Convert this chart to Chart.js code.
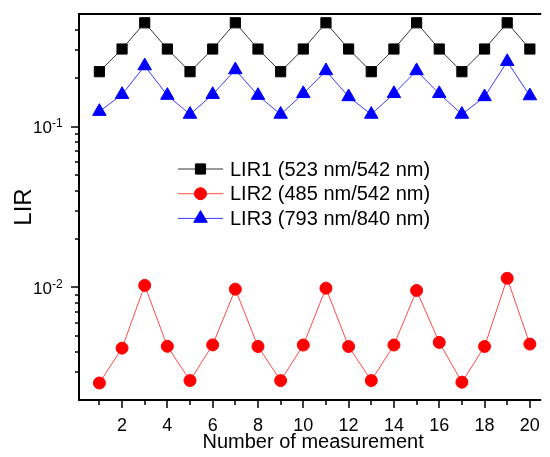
<!DOCTYPE html>
<html>
<head>
<meta charset="utf-8">
<script src="https://cdn.jsdelivr.net/npm/chart.js@4.4.0/dist/chart.umd.min.js"></script>
<style>
html,body{margin:0;padding:0;background:#fff;}
#wrap{width:550px;height:457px;position:relative;}
</style>
</head>
<body>
<div id="wrap"><canvas id="c"></canvas></div>
<script>
// ---- data ----
const measurements = [1,2,3,4,5,6,7,8,9,10,11,12,13,14,15,16,17,18,19,20];
const lir1 = [0.219,0.303,0.441,0.303,0.219,0.303,0.441,0.303,0.219,0.303,0.441,0.303,0.219,0.303,0.441,0.303,0.219,0.303,0.441,0.303];
const lir2 = [0.00255,0.0042,0.0103,0.00431,0.00264,0.0044,0.00976,0.0043,0.00264,0.00439,0.0099,0.0043,0.00264,0.00439,0.00958,0.00456,0.00258,0.0043,0.0114,0.00445];
const lir3 = [0.124,0.158,0.238,0.156,0.119,0.158,0.225,0.156,0.119,0.160,0.222,0.153,0.119,0.160,0.222,0.160,0.119,0.153,0.253,0.155];
const seriesLabels = ['LIR1 (523 nm/542 nm)','LIR2 (485 nm/542 nm)','LIR3 (793 nm/840 nm)'];
const xTickValues = [1,2,3,4,5,6,7,8,9,10,11,12,13,14,15,16,17,18,19,20];
const xTickLabels = {2:'2',4:'4',6:'6',8:'8',10:'10',12:'12',14:'14',16:'16',18:'18',20:'20'};
const yMajorTicks = [0.01, 0.1];
const yMajorLabels = [['10','-2'],['10','-1']];
const yMinorTicks = [0.003,0.004,0.005,0.006,0.007,0.008,0.009,0.02,0.03,0.04,0.05,0.06,0.07,0.08,0.09,0.2,0.3,0.4];
const xTitle = 'Number of measurement';
const yTitle = 'LIR';

const FONT = "'Liberation Sans', Arial, sans-serif";

function pts(vals){ return measurements.map((m,i)=>({x:m,y:vals[i]})); }

const axesPlugin = {
  id: 'axesPlugin',
  beforeDatasetsDraw(chart){
    const ctx = chart.ctx, a = chart.chartArea, xs = chart.scales.x, ys = chart.scales.y;
    ctx.save();
    ctx.strokeStyle = '#000';
    ctx.lineWidth = 2;
    ctx.beginPath();
    ctx.moveTo(a.left, a.top); ctx.lineTo(a.right, a.top);
    ctx.moveTo(a.left, a.top-1); ctx.lineTo(a.left, a.bottom+1);
    ctx.moveTo(a.left-1, a.bottom); ctx.lineTo(a.right, a.bottom);
    ctx.stroke();
    ctx.lineWidth = 1.5;
    ctx.beginPath();
    xTickValues.forEach(v=>{
      const px = Math.round(xs.getPixelForValue(v));
      const len = xTickLabels[v] ? 8 : 5;
      ctx.moveTo(px, a.bottom); ctx.lineTo(px, a.bottom+len);
    });
    yMajorTicks.forEach(v=>{
      const py = Math.round(ys.getPixelForValue(v));
      ctx.moveTo(a.left, py); ctx.lineTo(a.left-8, py);
    });
    yMinorTicks.forEach(v=>{
      const py = Math.round(ys.getPixelForValue(v));
      ctx.moveTo(a.left, py); ctx.lineTo(a.left-4, py);
    });
    ctx.stroke();
    // y tick labels with superscript exponent
    ctx.fillStyle = '#000';
    yMajorTicks.forEach((v,i)=>{
      const py = ys.getPixelForValue(v);
      ctx.font = '17px ' + FONT;
      ctx.textAlign = 'right';
      ctx.textBaseline = 'middle';
      ctx.fillText(yMajorLabels[i][0], 52, py + 1.5);
      ctx.font = '12px ' + FONT;
      ctx.textAlign = 'left';
      ctx.textBaseline = 'alphabetic';
      ctx.fillText(yMajorLabels[i][1], 52, py + 0.5);
    });
    // x axis title centred like the reference
    ctx.font = '20px ' + FONT;
    ctx.textAlign = 'center';
    ctx.textBaseline = 'middle';
    ctx.fillText(xTitle, (a.left + a.right) / 2 + 3, 442);
    ctx.restore();
  }
};

const legendPlugin = {
  id: 'legendPlugin',
  afterDatasetsDraw(chart){
    const ctx = chart.ctx;
    ctx.save();
    chart.data.datasets.forEach((ds,i)=>{
      const y = 169 + i*24.7;
      ctx.strokeStyle = ds.borderColor;
      ctx.lineWidth = 1;
      ctx.beginPath(); ctx.moveTo(178, y); ctx.lineTo(223, y); ctx.stroke();
      ctx.fillStyle = ds.pointBackgroundColor;
      ctx.strokeStyle = ds.pointBorderColor;
      Chart.helpers.drawPoint(ctx, {pointStyle: ds.pointStyle, radius: ds.pointRadius, borderWidth: ds.pointBorderWidth, rotation: 0}, 200.5, y);
      ctx.fillStyle = '#000';
      ctx.font = '20px ' + FONT;
      ctx.textAlign = 'left';
      ctx.textBaseline = 'middle';
      ctx.fillText(ds.label, 230, y + 1);
    });
    ctx.restore();
  }
};

new Chart(document.getElementById('c'), {
  type: 'line',
  data: {
    datasets: [
      {label: seriesLabels[0], data: pts(lir1), borderColor: '#333333', borderWidth: 1,
       pointStyle: 'rect', pointRadius: 7.2, pointBackgroundColor: '#000', pointBorderColor: '#000', pointBorderWidth: 1},
      {label: seriesLabels[1], data: pts(lir2), borderColor: '#ff4a4a', borderWidth: 1,
       pointStyle: 'circle', pointRadius: 6, pointBackgroundColor: '#ff0000', pointBorderColor: '#ff0000', pointBorderWidth: 1},
      {label: seriesLabels[2], data: pts(lir3), borderColor: '#3a3aff', borderWidth: 1,
       pointStyle: 'triangle', pointRadius: 7.8, pointBackgroundColor: '#0000ff', pointBorderColor: '#0000ff', pointBorderWidth: 1}
    ]
  },
  options: {
    responsive: true,
    maintainAspectRatio: false,
    animation: false,
    events: [],
    layout: {padding: {top: 14, left: 0, right: 0, bottom: 0}},
    plugins: {legend: {display: false}, tooltip: {enabled: false}},
    elements: {line: {tension: 0}},
    scales: {
      x: {
        type: 'linear', min: 0.1, max: 20.5,
        grid: {display: false, drawTicks: false},
        border: {display: false},
        afterBuildTicks(s){ s.ticks = xTickValues.map(v=>({value:v})); },
        afterFit(s){ s.height = 57; s.paddingLeft = 0; s.paddingRight = 0; },
        ticks: {autoSkip: false, maxRotation: 0, padding: 15, color: '#000',
          font: {family: FONT, size: 18},
          callback(v){ return xTickLabels[v] || ''; }},
        title: {display: false, text: xTitle}
      },
      y: {
        type: 'logarithmic', min: 0.002, max: 0.5,
        grid: {display: false, drawTicks: false},
        border: {display: false},
        ticks: {display: false},
        afterFit(s){ s.width = 79; },
        title: {display: true, text: yTitle, color: '#000', font: {family: FONT, size: 24}, padding: {top: 10, bottom: 0}}
      }
    }
  },
  plugins: [axesPlugin, legendPlugin]
});
</script>
</body>
</html>
